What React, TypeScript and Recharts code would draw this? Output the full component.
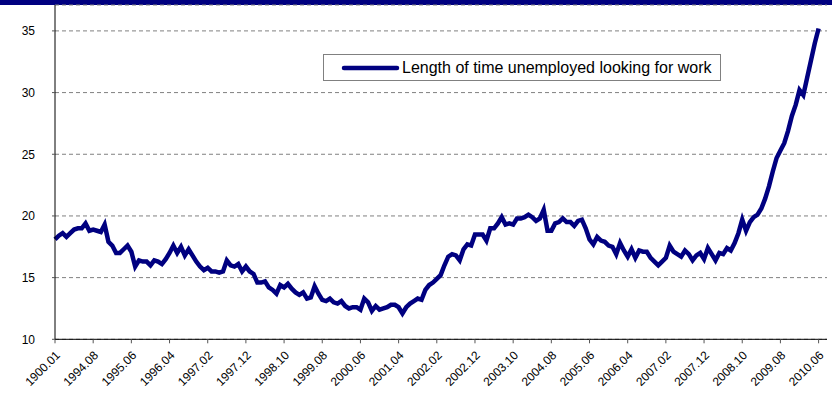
import { LineChart, Line, XAxis, YAxis, CartesianGrid, Legend } from 'recharts';

// monthly values, first point labelled "1900.01" in the source sheet
const values = [
  18.1, 18.4, 18.6, 18.3, 18.6, 18.9, 19.0, 19.0, 19.4, 18.8,
  18.9, 18.8, 18.7, 19.3, 17.9, 17.6, 17.0, 17.0, 17.3, 17.6,
  17.1, 15.9, 16.4, 16.3, 16.3, 16.0, 16.4, 16.3, 16.1, 16.5,
  17.0, 17.6, 17.0, 17.5, 16.8, 17.3, 16.8, 16.3, 15.9, 15.6,
  15.8, 15.5, 15.5, 15.4, 15.5, 16.4, 16.0, 15.9, 16.1, 15.5,
  15.9, 15.5, 15.3, 14.6, 14.6, 14.7, 14.2, 14.0, 13.7, 14.4,
  14.2, 14.5, 14.1, 13.8, 13.6, 13.8, 13.3, 13.4, 14.3, 13.7,
  13.2, 13.1, 13.3, 13.0, 12.9, 13.1, 12.7, 12.5, 12.6, 12.6,
  12.4, 13.3, 13.0, 12.3, 12.7, 12.4, 12.5, 12.6, 12.8, 12.8,
  12.6, 12.1, 12.6, 12.9, 13.1, 13.3, 13.2, 14.0, 14.4, 14.6,
  14.9, 15.2, 16.0, 16.7, 16.9, 16.8, 16.4, 17.3, 17.7, 17.6,
  18.5, 18.5, 18.5, 18.0, 19.0, 19.0, 19.4, 19.9, 19.3, 19.4,
  19.3, 19.8, 19.8, 19.9, 20.1, 19.9, 19.6, 19.8, 20.5, 18.8,
  18.8, 19.4, 19.5, 19.8, 19.5, 19.5, 19.2, 19.6, 19.7, 19.0,
  18.1, 17.7, 18.3, 18.0, 17.9, 17.6, 17.5, 16.9, 17.8, 17.2,
  16.7, 17.3, 16.6, 17.2, 17.1, 17.1, 16.6, 16.3, 16.0, 16.3,
  16.6, 17.6, 17.1, 16.9, 16.7, 17.2, 16.9, 16.4, 16.8, 17.0,
  16.5, 17.4, 16.9, 16.4, 17.0, 16.9, 17.4, 17.2, 17.8, 18.6,
  19.7, 18.8, 19.5, 19.9, 20.1, 20.6, 21.4, 22.4, 23.6, 24.7,
  25.3, 25.9, 26.9, 28.1, 29.0, 30.2, 29.8, 31.2, 32.6, 34.0,
  35.2,
];

// one label every 10 months
const tickLabels = [
  '1900.01', '1994.08', '1995.06', '1996.04', '1997.02', '1997.12', '1998.10',
  '1999.08', '2000.06', '2001.04', '2002.02', '2002.12', '2003.10', '2004.08',
  '2005.06', '2006.04', '2007.02', '2007.12', '2008.10', '2009.08', '2010.06',
];

const yTicks = [10, 15, 20, 25, 30, 35];

const seriesName = 'Length of time unemployed looking for work';

const NAVY = '#000080';
const FONT = '"Liberation Sans", Arial, sans-serif';

const data = values.map((v, i) => ({ i, v }));
const xTicks = tickLabels.map((_, k) => k * 10);

const XTick = ({ x, y, payload }: any) => {
  const label = tickLabels[Math.round(payload.value / 10)] ?? '';
  return (
    <g transform={`translate(${x + 3},${y + 8}) rotate(-45)`}>
      <text x={0} y={4} textAnchor="end" fontSize={12} fill="#000" fontFamily={FONT}>
        {label}
      </text>
    </g>
  );
};

const LegendBox = () => (
  <div
    style={{
      width: 398,
      height: 27,
      boxSizing: 'border-box',
      border: '1px solid #808080',
      background: '#fff',
      display: 'flex',
      alignItems: 'center',
      fontFamily: FONT,
      fontSize: 16,
      color: '#000',
      whiteSpace: 'nowrap',
    }}
  >
    <svg width={78} height={10} style={{ flex: 'none' }}>
      <line x1={20} y1={5} x2={73} y2={5} stroke={NAVY} strokeWidth={4.5} strokeLinecap="round" />
    </svg>
    <span>{seriesName}</span>
  </div>
);

export default function App() {
  return (
    <div style={{ position: 'absolute', left: 0, top: 0, width: 832, height: 414, background: '#fff' }}>
      <div style={{ position: 'absolute', left: 0, top: 0, width: 832, height: 5, background: NAVY }} />
      <LineChart
        width={832}
        height={414}
        data={data}
        margin={{ top: 5, right: 5, bottom: 0, left: 0 }}
      >
        <CartesianGrid vertical={false} stroke="#808080" strokeDasharray="4 3" />
        <XAxis
          dataKey="i"
          type="number"
          domain={[0, 202.2]}
          ticks={xTicks}
          interval={0}
          height={74.7}
          tick={<XTick />}
          tickSize={4}
          axisLine={{ stroke: '#000' }}
          tickLine={{ stroke: '#555' }}
        />
        <YAxis
          type="number"
          domain={[10, 37.1]}
          ticks={yTicks}
          interval={0}
          width={55}
          tickSize={3}
          tickMargin={17}
          axisLine={{ stroke: '#000' }}
          tickLine={{ stroke: '#555' }}
          tick={{ fontSize: 12, fill: '#000', fontFamily: FONT }}
        />
        <Legend
          layout="horizontal"
          verticalAlign="middle"
          align="center"
          content={() => <LegendBox />}
          wrapperStyle={{ position: 'absolute', left: 323, top: 54, width: 398, height: 27 }}
        />
        <Line
          type="linear"
          dataKey="v"
          name={seriesName}
          stroke={NAVY}
          strokeWidth={4.5}
          dot={false}
          activeDot={false}
          isAnimationActive={false}
        />
      </LineChart>
    </div>
  );
}
